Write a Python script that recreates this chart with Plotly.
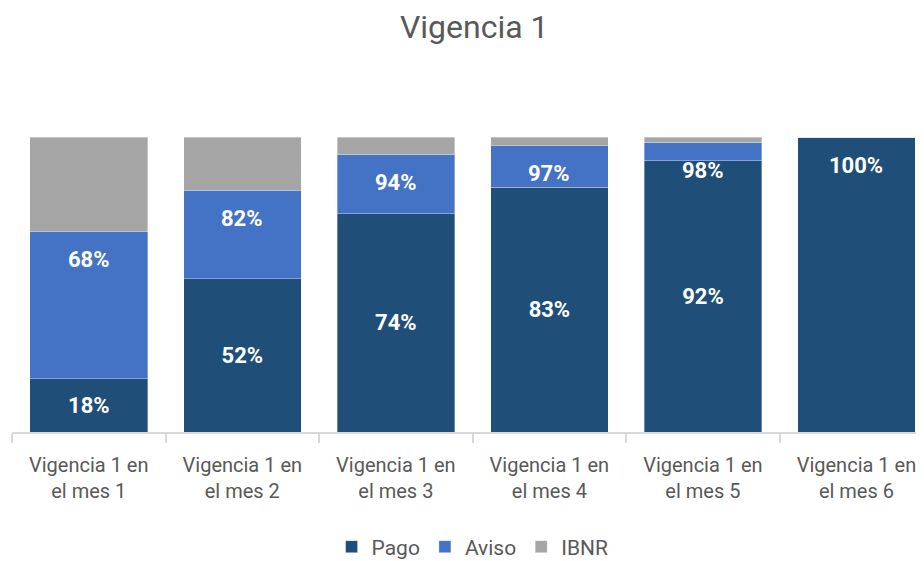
import plotly.graph_objects as go

categories = ["Vigencia 1 en<br>el mes 1", "Vigencia 1 en<br>el mes 2", "Vigencia 1 en<br>el mes 3",
              "Vigencia 1 en<br>el mes 4", "Vigencia 1 en<br>el mes 5", "Vigencia 1 en<br>el mes 6"]
pago = [18, 52, 74, 83, 92, 100]
aviso_cum = [68, 82, 94, 97, 98, 100]
ibnr_cum = [100, 100, 100, 100, 100, 100]
pago_labels = ["18%", "52%", "74%", "83%", "92%", ""]
aviso_labels = ["68%", "82%", "94%", "97%", "98%", "100%"]

aviso = [a - p for a, p in zip(aviso_cum, pago)]
ibnr = [i - a for i, a in zip(ibnr_cum, aviso_cum)]

FONT = "Roboto"
GRAY = "#595959"
line = dict(color="rgba(255,255,255,0.5)", width=0.7)
LBL = dict(color="white", size=22, family=FONT, weight="bold")
H = 553

fig = go.Figure()
fig.add_bar(x=categories, y=pago, name="Pago", marker=dict(color="#1F4E79", line=line),
            text=pago_labels, textposition="inside", insidetextanchor="middle",
            textfont=LBL, width=0.766)
fig.add_bar(x=categories, y=aviso, name="Aviso", marker=dict(color="#4472C4", line=line), width=0.766)
fig.add_bar(x=categories, y=ibnr, name="IBNR", marker=dict(color="#A5A5A5", line=line), width=0.766)

for c, v, t in zip(categories, aviso_cum, aviso_labels):
    fig.add_annotation(x=c, y=v, text=t, showarrow=False, yshift=-28, yanchor="middle", font=LBL)

fig.update_layout(
    barmode="stack",
    width=916, height=H,
    margin=dict(l=4, r=0, t=129, b=129),
    paper_bgcolor="white", plot_bgcolor="white",
    title=dict(text="Vigencia 1", x=0.509, xanchor="center", y=1 - 19 / H, yanchor="middle",
               font=dict(size=32, color=GRAY, family=FONT)),
    font=dict(family=FONT, color=GRAY),
    showlegend=True,
    legend=dict(orientation="h", x=0.505, xanchor="center", yref="container", y=1 - 539 / H,
                yanchor="middle", font=dict(size=21, color=GRAY, family=FONT), itemwidth=30,
                traceorder="normal"),
    xaxis=dict(range=[-0.5, 5.44], showline=True, linecolor="#D9D9D9", linewidth=1.5,
               ticks="outside", tickson="boundaries", ticklen=9, tickcolor="#D9D9D9", tickwidth=1.5,
               ticklabelstandoff=14,
               tickfont=dict(size=20, color=GRAY, family=FONT), showgrid=False),
    yaxis=dict(range=[0, 100], visible=False, showgrid=False),
    bargap=0.234,
)
fig.write_html("out.html")
